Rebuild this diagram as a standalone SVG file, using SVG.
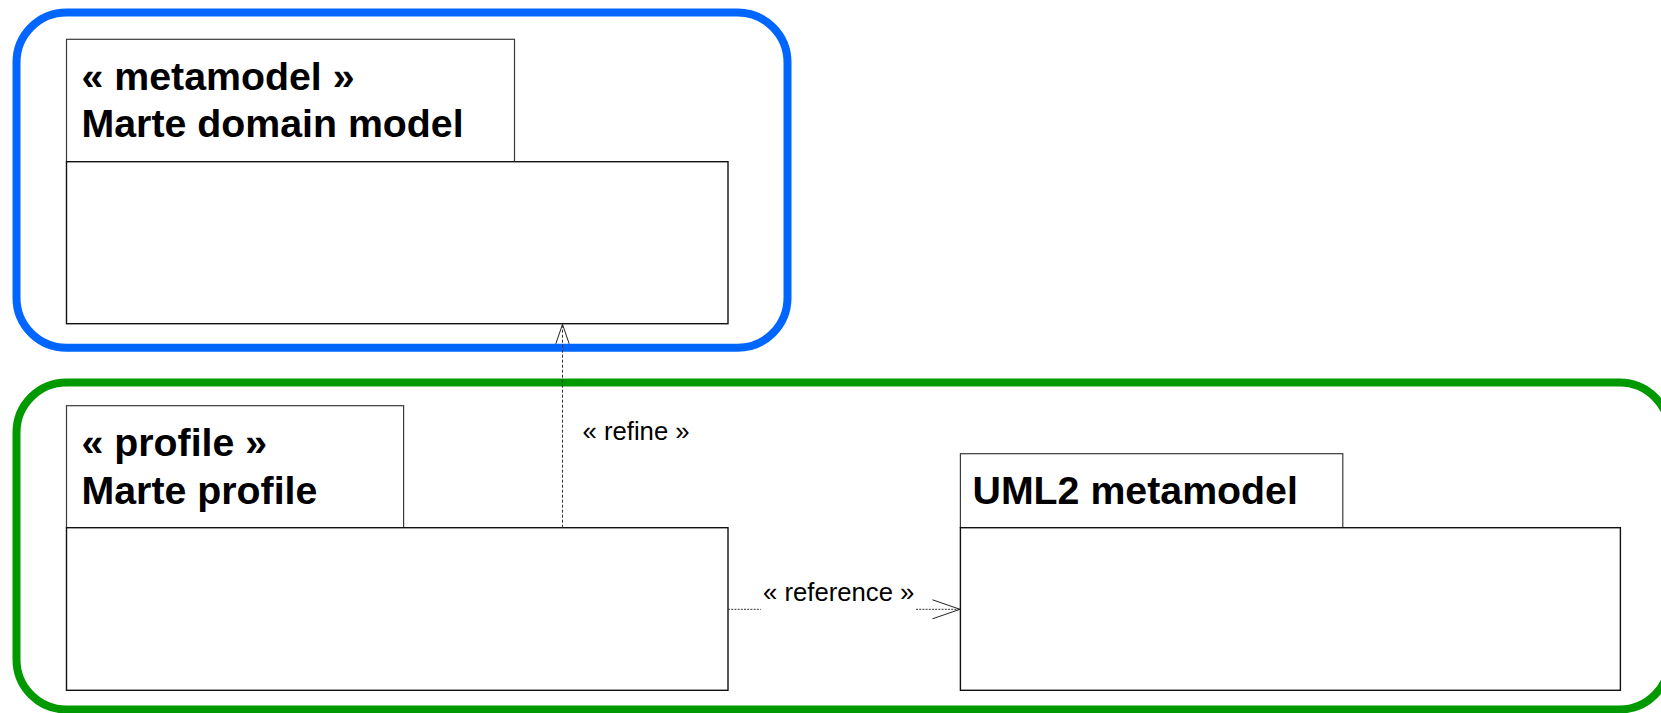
<svg xmlns="http://www.w3.org/2000/svg" width="1661" height="713" viewBox="0 0 1661 713">
  <style>
    .frame { fill: none; stroke-width: 8; }
    .frame-blue { stroke: #0066ff; }
    .frame-green { stroke: #009a00; }
    .tab { fill: #ffffff; stroke: #3a3a3a; stroke-width: 1.2; }
    .body { fill: #ffffff; stroke: #111111; stroke-width: 1.4; }
    .title { font-family: "Liberation Sans", Arial, sans-serif; font-weight: bold; font-size: 39.3px; fill: #000000; }
    .label { font-family: "Liberation Sans", Arial, sans-serif; font-size: 25.7px; fill: #000000; }
    .dep { fill: none; stroke: #333333; stroke-width: 1; }
    .arrow { fill: none; stroke: #222222; stroke-width: 1; stroke-dasharray: none; }
  </style>
  <defs>
    <marker id="open-arrow-large" markerUnits="userSpaceOnUse" viewBox="0 0 29 22" refX="28" refY="10" markerWidth="29" markerHeight="22" orient="auto" overflow="visible">
      <path class="arrow" d="M0.5,0.5 L28,10 L0.5,19.5"/>
    </marker>
    <marker id="open-arrow-small" markerUnits="userSpaceOnUse" viewBox="0 0 21 16" refX="20" refY="7" markerWidth="21" markerHeight="16" orient="auto" overflow="visible">
      <path class="arrow" d="M0.5,0.3 L20,7 L0.5,13.7"/>
    </marker>
  </defs>

  <!-- grouping frames -->
  <rect id="frame-metamodel" class="frame frame-blue" x="16.5" y="12.5" width="771" height="335.3" rx="50" ry="50"/>
  <rect id="frame-profiles" class="frame frame-green" x="16.5" y="382.5" width="1653" height="327" rx="50" ry="50"/>

  <!-- package: Marte domain model -->
  <g id="pkg-marte-domain-model">
    <rect class="tab" x="66.5" y="39.3" width="448" height="122.4"/>
    <rect class="body" x="66.5" y="161.7" width="661.5" height="162"/>
    <text class="title" x="81.5" y="89.5">« metamodel »</text>
    <text class="title" x="81.5" y="137.3">Marte domain model</text>
  </g>

  <!-- package: Marte profile -->
  <g id="pkg-marte-profile">
    <rect class="tab" x="66.5" y="405.7" width="337.1" height="122"/>
    <rect class="body" x="66.5" y="527.7" width="661.5" height="162.6"/>
    <text class="title" x="81.5" y="455.7">« profile »</text>
    <text class="title" x="81.5" y="503.7">Marte profile</text>
  </g>

  <!-- package: UML2 metamodel -->
  <g id="pkg-uml2-metamodel">
    <rect class="tab" x="960.4" y="453.7" width="382.4" height="74"/>
    <rect class="body" x="960.4" y="527.7" width="660" height="162.6"/>
    <text class="title" x="972.5" y="503.7">UML2 metamodel</text>
  </g>

  <!-- dependencies -->
  <g id="connectors">
    <g id="dep-refine">
      <path class="dep" stroke-dasharray="3,2" d="M562.5,527.7 V324.3" marker-end="url(#open-arrow-small)"/>
      <text class="label" x="582.5" y="439.5">« refine »</text>
    </g>
    <g id="dep-reference">
      <path class="dep" stroke-dasharray="2,1.2" d="M728,609.3 H760.7 M916,609.3 H960" marker-end="url(#open-arrow-large)"/>
      <text class="label" x="763" y="601.2">« reference »</text>
    </g>
  </g>
</svg>
